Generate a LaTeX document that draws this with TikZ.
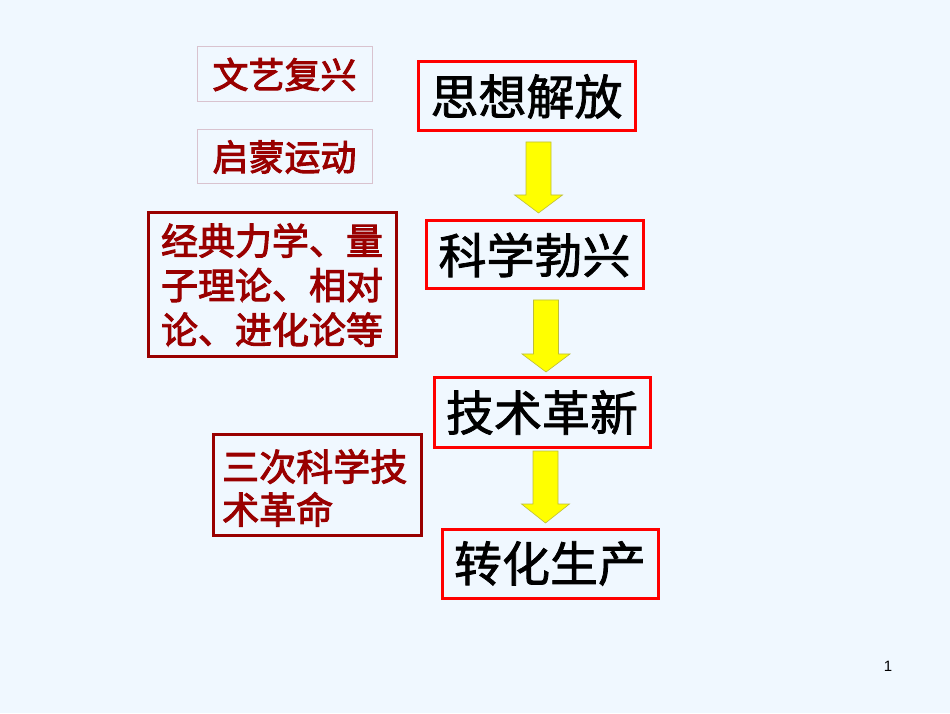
\documentclass[tikz,border=0pt]{standalone}
\usepackage{fontspec}
\setmainfont{Noto Sans CJK SC}
\newfontfamily\mainfont[FakeBold=1.6]{Noto Sans CJK SC}
\newfontfamily\notefont[FakeBold=2.6]{Noto Sans CJK SC}
\newfontfamily\numfont{Liberation Sans}
\definecolor{bg}{HTML}{F0F8FF}
\definecolor{darkred}{HTML}{990000}
\definecolor{thinb}{HTML}{D9C3CF}
\definecolor{arrowfill}{HTML}{FFFF00}
\definecolor{arrowline}{HTML}{BDBD3A}
\definecolor{boxred}{HTML}{FF0000}
\newcommand\blockarrow[4]{% cx, top, base, tip
  \filldraw[fill=arrowfill,draw=arrowline,line width=0.6pt,line join=miter]
    (#1-12.5,#2) -- (#1+12.5,#2) -- (#1+12.5,#3) -- (#1+24,#3) -- (#1,#4)
    -- (#1-24,#3) -- (#1-12.5,#3) -- cycle;}
\begin{document}
\begin{tikzpicture}[x=1pt,y=1pt,
  mainbox/.style={draw=boxred,line width=3pt,inner sep=0pt,
    font=\mainfont\fontsize{48}{58}\selectfont,text=black},
  thinbox/.style={draw=thinb,line width=1pt,inner sep=0pt,
    font=\notefont\fontsize{36}{44}\selectfont,text=darkred},
  redbox/.style={draw=darkred,line width=3pt,inner sep=0pt,
    font=\notefont\fontsize{37}{44.5}\selectfont,text=darkred}]
\fill[bg] (0,0) rectangle (950,713);
\useasboundingbox (0,0) rectangle (950,713);
% main chain
\node[mainbox,minimum width=217pt,minimum height=69pt] (n1) at (526.5,616.5) {思想解放};
\node[mainbox,minimum width=217pt,minimum height=68pt] (n2) at (534.5,458) {科学勃兴};
\node[mainbox,minimum width=216pt,minimum height=69pt] (n3) at (542,300.5) {技术革新};
\node[mainbox,minimum width=216pt,minimum height=69pt] (n4) at (550,149.5) {转化生产};
% left notes
\node[thinbox,minimum width=175pt,minimum height=55pt] (l1) at (284.5,638.5) {文艺复兴};
\node[thinbox,minimum width=175pt,minimum height=54pt] (l2) at (284.5,556) {启蒙运动};
\node[redbox,minimum width=248pt,minimum height=144pt,align=left] (l3) at (272,428)
  {经典力学、量\\子理论、相对\\论、进化论等};
\node[redbox,minimum width=208pt,minimum height=101pt] (l4) at (317,228.5) {};
\node[font=\notefont\fontsize{37}{43}\selectfont,text=darkred,align=left,
  text width=190pt,inner sep=0pt,anchor=west] (l4t) at (222,225)
  {三次科学技\\术革命};
% block arrows
\blockarrow{538.5}{571}{518}{500}
\blockarrow{546}{413}{359}{341}
\blockarrow{545.5}{262}{209}{190}
% page number
\node[font=\numfont\fontsize{15}{18}\selectfont,inner sep=0pt] (pg) at (888,47) {1};
\end{tikzpicture}
\end{document}
